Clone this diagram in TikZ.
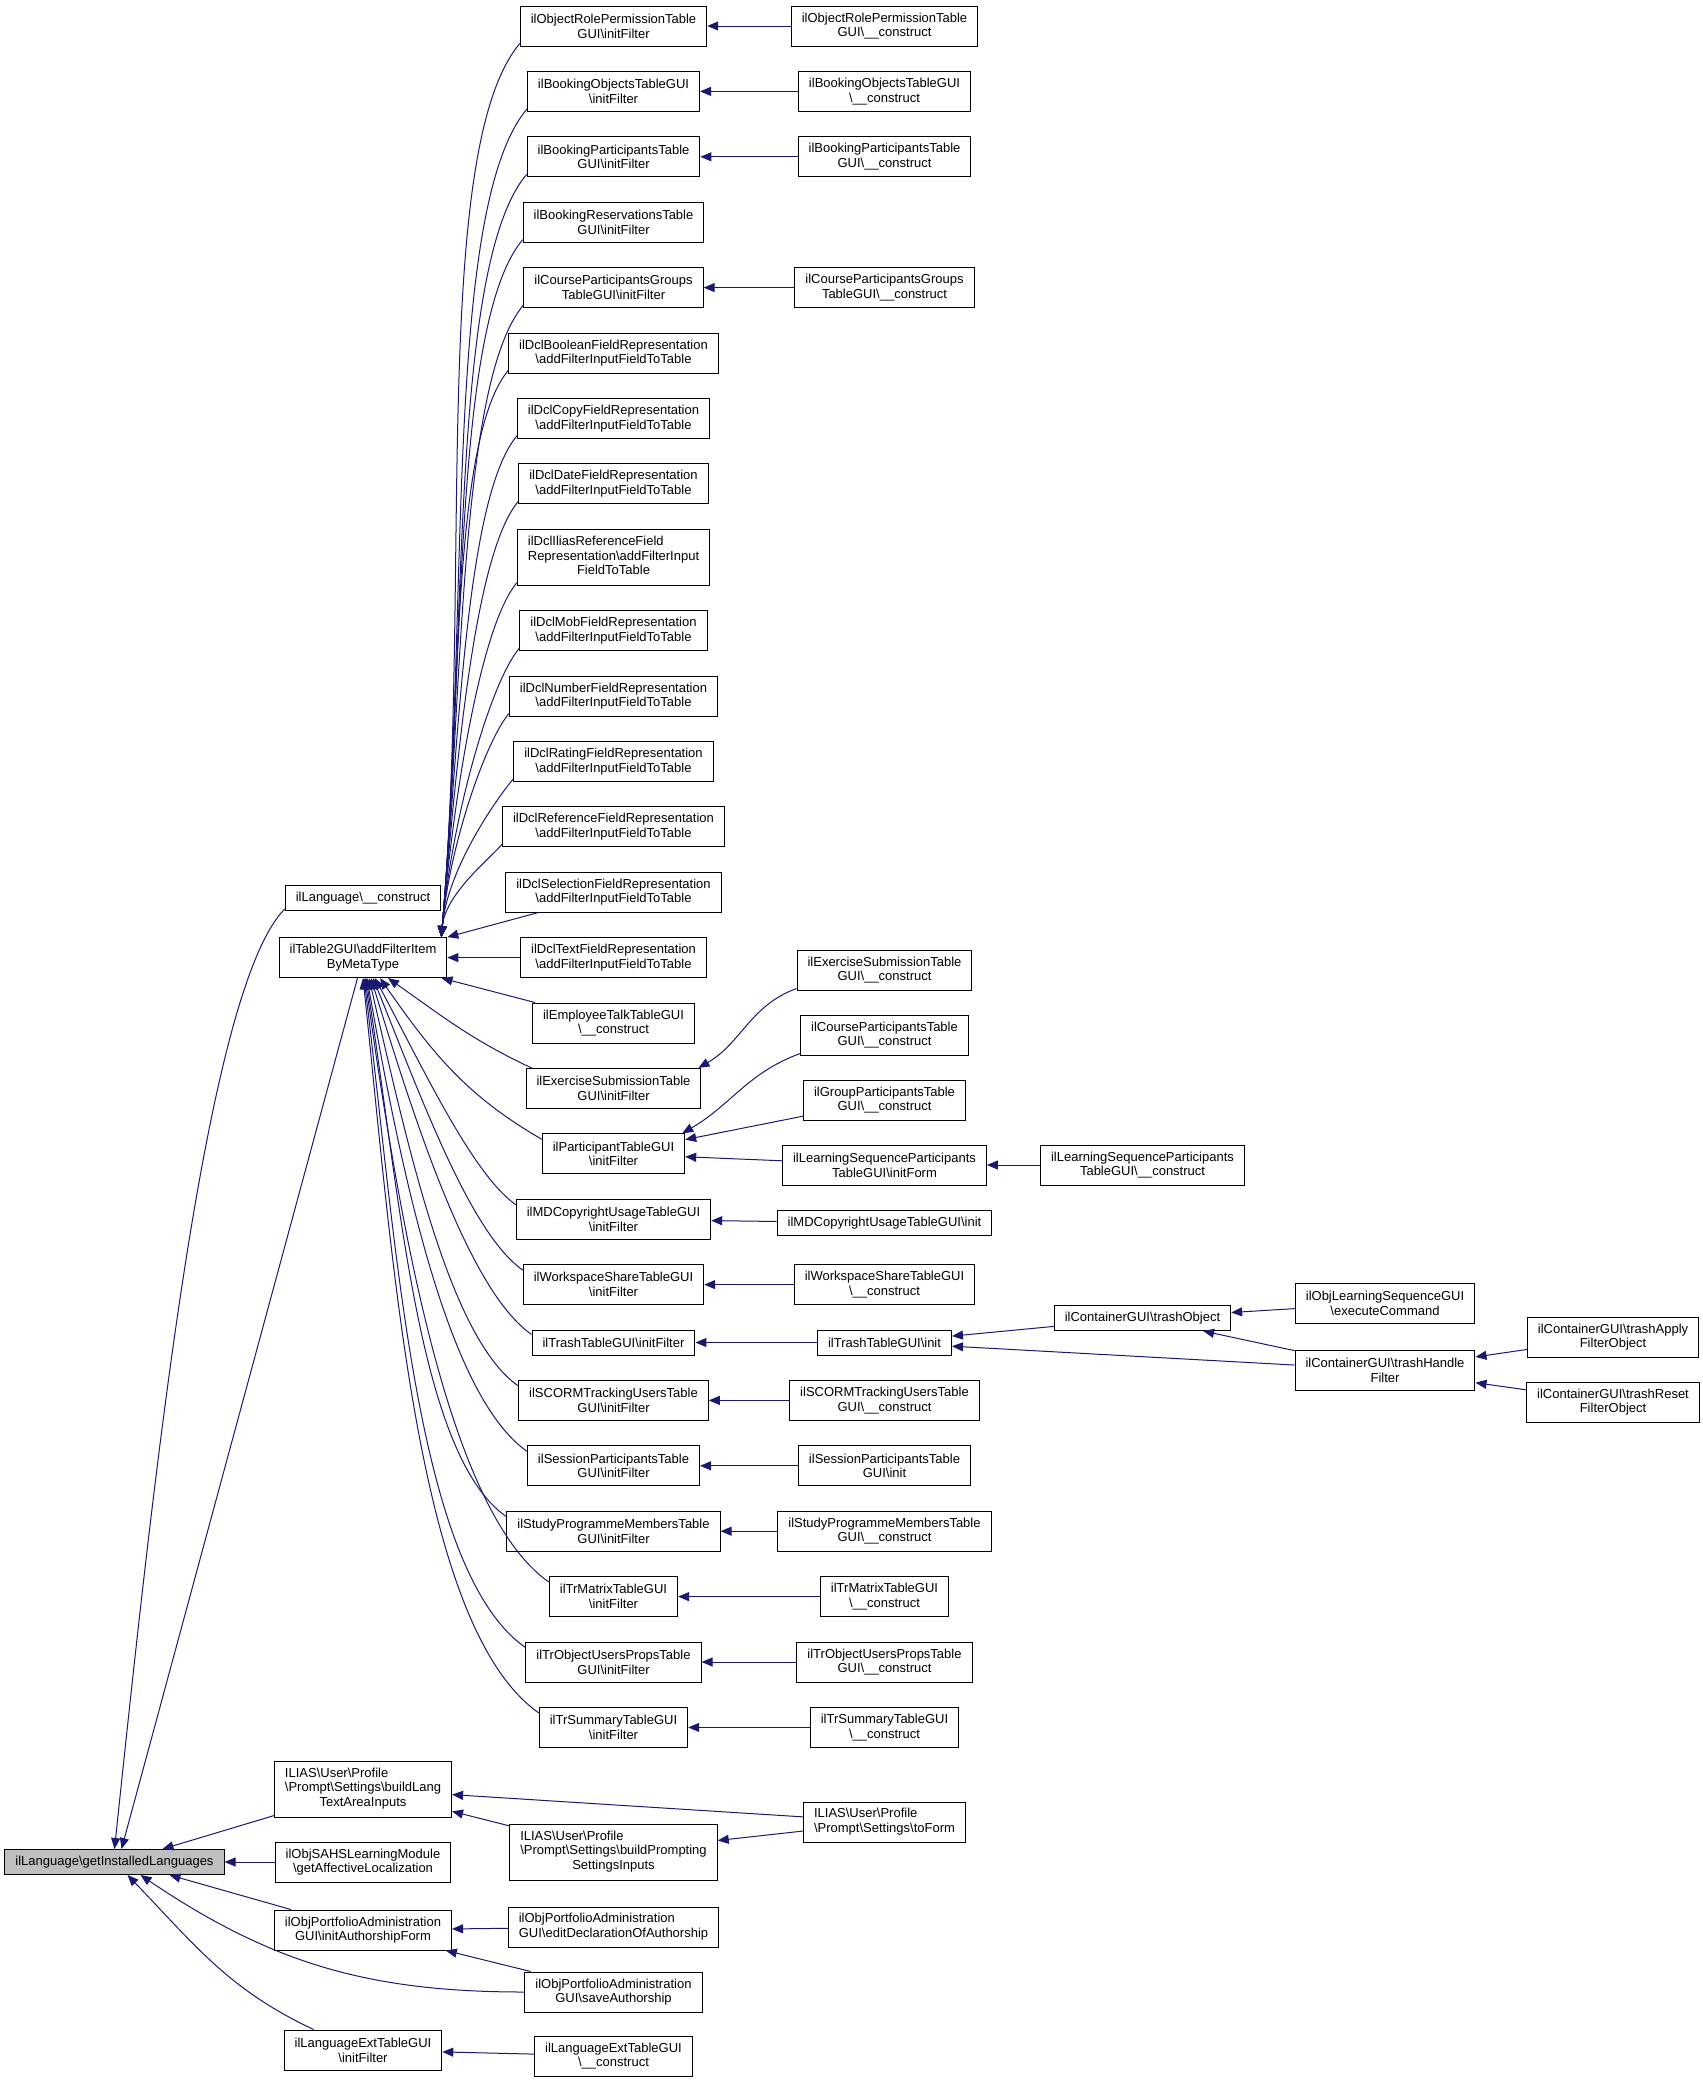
\documentclass[tikz,border=0pt]{standalone}
\usepackage{fontspec}
\setmainfont{Liberation Sans}
\usepackage{tikz}
\usetikzlibrary{arrows.meta}
\definecolor{edgeblue}{HTML}{191970}
\definecolor{nodegray}{HTML}{BFBFBF}
\newcommand{\bsl}{\textbackslash}
\newcommand{\leftlines}[1]{\begin{tabular}{@{}l@{}}#1\end{tabular}}
\newcommand{\midline}[1]{\multicolumn{1}{@{}c@{}}{#1}}

\begin{document}
\begin{tikzpicture}[x=1pt,y=-1pt,
    fn/.style={draw,line width=1pt,fill=white,inner xsep=10.5pt,inner ysep=2pt,
      align=center,font=\fontsize{13}{14.7}\selectfont},
    fn1/.style={fn,minimum height=25pt},
    fn2/.style={fn,minimum height=40pt},
    fn3/.style={fn,minimum height=56pt},
    call/.style={color=edgeblue,line width=1pt,-{Triangle[length=11pt,width=9pt]}},
    topbend/.style={out=230,in=85,out looseness=.4},
    lowbend/.style={out=145,out looseness=.5}]
   \useasboundingbox (0,0) rectangle (1703,2081);

   \node[fn1,fill=nodegray] (lang_get) at (114.5,1862) {ilLanguage\bsl getInstalledLanguages};

   \node[fn1] (lang_construct) at (363,898) {ilLanguage\bsl\_\_construct};
   \node[fn2] (t2g) at (363,957.6) {ilTable2GUI\bsl addFilterItem\\ByMetaType};
   \node[fn3] (buildlang) at (363,1789) {\leftlines{ILIAS\bsl User\bsl Profile\\\bsl Prompt\bsl Settings\bsl buildLang\\\midline{TextAreaInputs}}};
   \node[fn2] (sahs) at (363,1862) {ilObjSAHSLearningModule\\\bsl getAffectiveLocalization};
   \node[fn2] (initauth) at (363,1930) {ilObjPortfolioAdministration\\GUI\bsl initAuthorshipForm};
   \node[fn2] (langext_init) at (363,2050) {ilLanguageExtTableGUI\\\bsl initFilter};

   \node[fn2] (objrole_filter) at (613.5,26) {ilObjectRolePermissionTable\\GUI\bsl initFilter};
   \node[fn2] (bookobj_filter) at (613.5,91.4) {ilBookingObjectsTableGUI\\\bsl initFilter};
   \node[fn2] (bookpart_filter) at (613.5,156.8) {ilBookingParticipantsTable\\GUI\bsl initFilter};
   \node[fn2] (bookres_filter) at (613.5,222.2) {ilBookingReservationsTable\\GUI\bsl initFilter};
   \node[fn2] (crsgrp_filter) at (613.5,287.6) {ilCourseParticipantsGroups\\TableGUI\bsl initFilter};
   \node[fn2] (dcl_bool) at (613.5,353) {ilDclBooleanFieldRepresentation\\\bsl addFilterInputFieldToTable};
   \node[fn2] (dcl_copy) at (613.5,418.4) {ilDclCopyFieldRepresentation\\\bsl addFilterInputFieldToTable};
   \node[fn2] (dcl_date) at (613.5,483.8) {ilDclDateFieldRepresentation\\\bsl addFilterInputFieldToTable};
   \node[fn3] (dcl_ilias) at (613.5,557.2) {\leftlines{ilDclIliasReferenceField\\Representation\bsl addFilterInput\\\midline{FieldToTable}}};
   \node[fn2] (dcl_mob) at (613.5,630.6) {ilDclMobFieldRepresentation\\\bsl addFilterInputFieldToTable};
   \node[fn2] (dcl_number) at (613.5,696) {ilDclNumberFieldRepresentation\\\bsl addFilterInputFieldToTable};
   \node[fn2] (dcl_rating) at (613.5,761.4) {ilDclRatingFieldRepresentation\\\bsl addFilterInputFieldToTable};
   \node[fn2] (dcl_ref) at (613.5,826.8) {ilDclReferenceFieldRepresentation\\\bsl addFilterInputFieldToTable};
   \node[fn2] (dcl_sel) at (613.5,892.2) {ilDclSelectionFieldRepresentation\\\bsl addFilterInputFieldToTable};
   \node[fn2] (dcl_text) at (613.5,957.6) {ilDclTextFieldRepresentation\\\bsl addFilterInputFieldToTable};
   \node[fn2] (emptalk_construct) at (613.5,1023) {ilEmployeeTalkTableGUI\\\bsl\_\_construct};
   \node[fn2] (exc_filter) at (613.5,1088.4) {ilExerciseSubmissionTable\\GUI\bsl initFilter};
   \node[fn2] (part_filter) at (613.5,1153.8) {ilParticipantTableGUI\\\bsl initFilter};
   \node[fn2] (mdcopy_filter) at (613.5,1219.2) {ilMDCopyrightUsageTableGUI\\\bsl initFilter};
   \node[fn2] (wsp_filter) at (613.5,1284.6) {ilWorkspaceShareTableGUI\\\bsl initFilter};
   \node[fn1] (trash_filter) at (613.5,1342.5) {ilTrashTableGUI\bsl initFilter};
   \node[fn2] (scorm_filter) at (613.5,1400.4) {ilSCORMTrackingUsersTable\\GUI\bsl initFilter};
   \node[fn2] (sess_filter) at (613.5,1465.8) {ilSessionParticipantsTable\\GUI\bsl initFilter};
   \node[fn2] (prg_filter) at (613.5,1531.2) {ilStudyProgrammeMembersTable\\GUI\bsl initFilter};
   \node[fn2] (trmatrix_filter) at (613.5,1596.6) {ilTrMatrixTableGUI\\\bsl initFilter};
   \node[fn2] (trobj_filter) at (613.5,1662) {ilTrObjectUsersPropsTable\\GUI\bsl initFilter};
   \node[fn2] (trsum_filter) at (613.5,1727.4) {ilTrSummaryTableGUI\\\bsl initFilter};
   \node[fn3] (buildprompt) at (613.5,1852) {\leftlines{ILIAS\bsl User\bsl Profile\\\bsl Prompt\bsl Settings\bsl buildPrompting\\\midline{SettingsInputs}}};
   \node[fn2] (editdecl) at (613.5,1927) {\leftlines{ilObjPortfolioAdministration\\GUI\bsl editDeclarationOfAuthorship}};
   \node[fn2] (saveauth) at (613.5,1992) {ilObjPortfolioAdministration\\GUI\bsl saveAuthorship};
   \node[fn2] (langext_construct) at (613.5,2056) {ilLanguageExtTableGUI\\\bsl\_\_construct};

   \node[fn2] (objrole_construct) at (884.5,26) {ilObjectRolePermissionTable\\GUI\bsl\_\_construct};
   \node[fn2] (bookobj_construct) at (884.5,91.4) {ilBookingObjectsTableGUI\\\bsl\_\_construct};
   \node[fn2] (bookpart_construct) at (884.5,156.8) {ilBookingParticipantsTable\\GUI\bsl\_\_construct};
   \node[fn2] (crsgrp_construct) at (884.5,287.6) {ilCourseParticipantsGroups\\TableGUI\bsl\_\_construct};
   \node[fn2] (exc_construct) at (884.5,970) {ilExerciseSubmissionTable\\GUI\bsl\_\_construct};
   \node[fn2] (crspart_construct) at (884.5,1035) {ilCourseParticipantsTable\\GUI\bsl\_\_construct};
   \node[fn2] (grppart_construct) at (884.5,1100) {ilGroupParticipantsTable\\GUI\bsl\_\_construct};
   \node[fn2] (lso_initform) at (884.5,1165) {ilLearningSequenceParticipants\\TableGUI\bsl initForm};
   \node[fn1] (mdcopy_init) at (884.5,1223) {ilMDCopyrightUsageTableGUI\bsl init};
   \node[fn2] (wsp_construct) at (884.5,1284.6) {ilWorkspaceShareTableGUI\\\bsl\_\_construct};
   \node[fn1] (trash_init) at (884.5,1342.5) {ilTrashTableGUI\bsl init};
   \node[fn2] (scorm_construct) at (884.5,1400.4) {ilSCORMTrackingUsersTable\\GUI\bsl\_\_construct};
   \node[fn2] (sess_init) at (884.5,1465.8) {ilSessionParticipantsTable\\GUI\bsl init};
   \node[fn2] (prg_construct) at (884.5,1531.2) {ilStudyProgrammeMembersTable\\GUI\bsl\_\_construct};
   \node[fn2] (trmatrix_construct) at (884.5,1596.6) {ilTrMatrixTableGUI\\\bsl\_\_construct};
   \node[fn2] (trobj_construct) at (884.5,1662) {ilTrObjectUsersPropsTable\\GUI\bsl\_\_construct};
   \node[fn2] (trsum_construct) at (884.5,1727.4) {ilTrSummaryTableGUI\\\bsl\_\_construct};
   \node[fn2] (toform) at (884.5,1822) {\leftlines{ILIAS\bsl User\bsl Profile\\\bsl Prompt\bsl Settings\bsl toForm}};

   \node[fn2] (lso_construct) at (1142.5,1165) {ilLearningSequenceParticipants\\TableGUI\bsl\_\_construct};
   \node[fn1] (trashobject) at (1142.5,1318) {ilContainerGUI\bsl trashObject};
   \node[fn2] (execcmd) at (1385,1303) {ilObjLearningSequenceGUI\\\bsl executeCommand};
   \node[fn2] (trashhandle) at (1385,1370) {ilContainerGUI\bsl trashHandle\\Filter};
   \node[fn2] (trashapply) at (1613,1337) {ilContainerGUI\bsl trashApply\\FilterObject};
   \node[fn2] (trashreset) at (1613,1402) {ilContainerGUI\bsl trashReset\\FilterObject};

   \path[call]
   ([yshift=2pt]lang_construct.south west) edge[out=225,in=84,out looseness=.3] (lang_get.north)
   (t2g) edge ([xshift=7pt]lang_get.north)
   (buildlang) edge ([xshift=48pt]lang_get.north)
   (sahs) edge (lang_get)
   (initauth) edge ([xshift=55pt]lang_get.south)
   (saveauth.west) edge[out=180,in=-34] ([xshift=26pt]lang_get.south)
   ([xshift=30pt]langext_init.north west) edge[out=155,in=-46] ([xshift=13pt]lang_get.south);

   \path[call]
   ([yshift=3pt]objrole_filter.south west) edge[topbend] ([xshift=-6pt]t2g.north east)
   ([yshift=3pt]bookobj_filter.south west) edge[topbend] ([xshift=-6pt]t2g.north east)
   ([yshift=3pt]bookpart_filter.south west) edge[topbend] ([xshift=-6pt]t2g.north east)
   ([yshift=3pt]bookres_filter.south west) edge[topbend] ([xshift=-6pt]t2g.north east)
   ([yshift=3pt]crsgrp_filter.south west) edge[topbend] ([xshift=-6pt]t2g.north east)
   ([yshift=3pt]dcl_bool.south west) edge[topbend] ([xshift=-6pt]t2g.north east)
   ([yshift=3pt]dcl_copy.south west) edge[topbend] ([xshift=-6pt]t2g.north east)
   ([yshift=3pt]dcl_date.south west) edge[topbend] ([xshift=-6pt]t2g.north east)
   ([yshift=3pt]dcl_ilias.south west) edge[topbend] ([xshift=-6pt]t2g.north east)
   ([yshift=3pt]dcl_mob.south west) edge[topbend] ([xshift=-6pt]t2g.north east)
   ([yshift=3pt]dcl_number.south west) edge[topbend] ([xshift=-6pt]t2g.north east)
   ([yshift=3pt]dcl_rating.south west) edge[topbend] ([xshift=-6pt]t2g.north east)
   ([yshift=3pt]dcl_ref.south west) edge[topbend] ([xshift=-6pt]t2g.north east)
   (dcl_sel) edge (t2g.north east)
   (dcl_text) edge (t2g)
   (emptalk_construct) edge (t2g)
   ([xshift=6pt]exc_filter.north west) edge[out=155,in=-35] ([xshift=25pt]t2g.south)
   ([yshift=-6pt]part_filter.north west) edge[out=150,in=-55] ([xshift=17pt]t2g.south)
   ([yshift=-6pt]mdcopy_filter.north west) edge[lowbend,in=-62] ([xshift=12pt]t2g.south)
   ([yshift=-6pt]wsp_filter.north west) edge[lowbend,in=-68] ([xshift=10pt]t2g.south)
   ([yshift=-5pt]trash_filter.north west) edge[lowbend,in=-73] ([xshift=8pt]t2g.south)
   ([yshift=-6pt]scorm_filter.north west) edge[lowbend,in=-77] ([xshift=6pt]t2g.south)
   ([yshift=-6pt]sess_filter.north west) edge[lowbend,in=-80] ([xshift=4pt]t2g.south)
   ([yshift=-6pt]prg_filter.north west) edge[lowbend,in=-81] ([xshift=3pt]t2g.south)
   ([yshift=-6pt]trmatrix_filter.north west) edge[lowbend,in=-82] ([xshift=2pt]t2g.south)
   ([yshift=-6pt]trobj_filter.north west) edge[lowbend,in=-83] ([xshift=1pt]t2g.south)
   ([yshift=-6pt]trsum_filter.north west) edge[lowbend,in=-84] (t2g.south);

   \path[call]
   (objrole_construct) edge (objrole_filter)
   (bookobj_construct) edge (bookobj_filter)
   (bookpart_construct) edge (bookpart_filter)
   (crsgrp_construct) edge (crsgrp_filter)
   ([yshift=2pt]exc_construct.south west) edge[out=200,in=30] ([xshift=-3pt]exc_filter.north east)
   ([yshift=2pt]crspart_construct.south west) edge[out=200,in=30] ([xshift=-3pt]part_filter.north east)
   (grppart_construct) edge (part_filter)
   (lso_initform) edge (part_filter)
   (mdcopy_init) edge (mdcopy_filter)
   (wsp_construct) edge (wsp_filter)
   (trash_init) edge (trash_filter)
   (scorm_construct) edge (scorm_filter)
   (sess_init) edge (sess_filter)
   (prg_construct) edge (prg_filter)
   (trmatrix_construct) edge (trmatrix_filter)
   (trobj_construct) edge (trobj_filter)
   (trsum_construct) edge (trsum_filter)
   (toform) edge (buildlang)
   (toform) edge (buildprompt)
   (buildprompt) edge (buildlang)
   (editdecl) edge (initauth)
   (saveauth) edge (initauth)
   (langext_construct) edge (langext_init);

   \path[call]
   (lso_construct) edge (lso_initform)
   (trashobject) edge (trash_init)
   (trashhandle) edge (trash_init)
   (trashhandle) edge (trashobject)
   (execcmd) edge (trashobject)
   (trashapply) edge (trashhandle)
   (trashreset) edge (trashhandle);
\end{tikzpicture}
\end{document}
